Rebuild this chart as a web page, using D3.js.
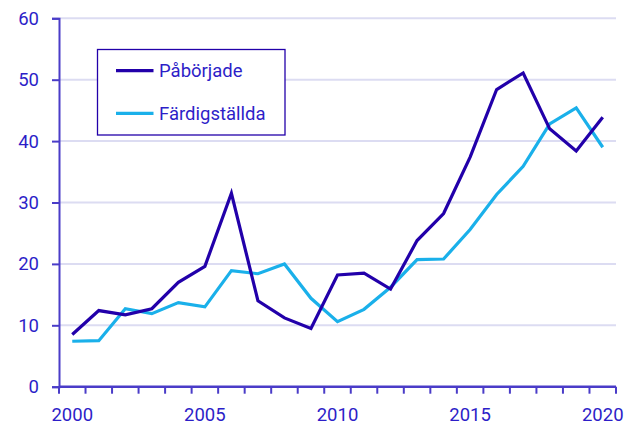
<!DOCTYPE html>
<html><head><meta charset="utf-8">
<script src="https://cdn.jsdelivr.net/npm/d3@7"></script>
<style>body{margin:0;background:#fff;} svg{display:block;}</style>
</head><body>
<script>
const years = d3.range(2000, 2021).map(String);
const paborjade = [8.5,12.4,11.7,12.7,17.0,19.6,31.5,14.0,11.2,9.5,18.2,18.5,15.9,23.8,28.2,37.4,48.4,51.1,42.0,38.4,43.9];
const fardigstallda = [7.4,7.5,12.7,11.9,13.7,13.0,18.9,18.4,20.0,14.4,10.6,12.6,16.2,20.7,20.8,25.6,31.3,35.9,42.8,45.4,39.0];
const yTicks = [0,10,20,30,40,50,60];
const xLabels = ["2000","2005","2010","2015","2020"];
const seriesNames = ["Påbörjade","Färdigställda"];

const W=633,H=425;
const m={left:59,right:17,top:18.3,bottom:38.3};
const textCol="#2d1ec8", axisCol="#4a3cc8", gridCol="#dcdcf2";
const colors=["#2200aa","#1ab0ea"];
const font="Roboto, 'Noto Sans', sans-serif";

const svg=d3.select("body").append("svg").attr("width",W).attr("height",H);
const x=d3.scaleBand().domain(years).range([m.left,W-m.right]);
const y=d3.scaleLinear().domain([0,60]).range([H-m.bottom,m.top]);

// grid
svg.append("g").selectAll("line").data(yTicks.filter(d=>d>0)).join("line")
  .attr("x1",m.left).attr("x2",W-m.right)
  .attr("y1",d=>y(d)).attr("y2",d=>y(d))
  .attr("stroke",gridCol).attr("stroke-width",2);

// y axis
const ya=svg.append("g").attr("transform",`translate(${m.left},0)`)
  .call(d3.axisLeft(y).tickValues(yTicks).tickSize(7).tickPadding(13));
ya.select(".domain").attr("stroke",axisCol).attr("stroke-width",2);
ya.selectAll(".tick line").attr("stroke",axisCol).attr("stroke-width",2);
ya.selectAll("text").attr("fill",textCol).style("font-family",font).style("font-size","18.5px");

// x axis: ticks at band boundaries
const xa=svg.append("g").attr("transform",`translate(0,${y(0)})`);
const bounds=years.map(d=>x(d)).concat([x(years[years.length-1])+x.bandwidth()]);
xa.append("line").attr("x1",m.left).attr("x2",W-m.right).attr("stroke",axisCol).attr("stroke-width",2.5);
xa.selectAll(".tk").data(bounds).join("line").attr("class","tk")
  .attr("x1",d=>d).attr("x2",d=>d).attr("y1",0).attr("y2",7)
  .attr("stroke",axisCol).attr("stroke-width",2);
xa.selectAll(".lbl").data(xLabels).join("text").attr("class","lbl")
  .attr("x",d=>x(d)+x.bandwidth()/2).attr("y",34)
  .attr("text-anchor","middle").attr("fill",textCol)
  .style("font-family",font).style("font-size","18.5px").text(d=>d);

// lines
const line=d3.line().x((d,i)=>x(years[i])+x.bandwidth()/2).y(d=>y(d));
[fardigstallda,paborjade].forEach((s,k)=>{
  svg.append("path").datum(s).attr("d",line).attr("fill","none")
    .attr("stroke",k===0?colors[1]:colors[0]).attr("stroke-width",3.2)
    .attr("stroke-linejoin","miter");
});

// legend
const lg=svg.append("g");
lg.append("rect").attr("x",97.5).attr("y",49.5).attr("width",187.5).attr("height",85.5)
  .attr("fill","#fff").attr("stroke","#2200aa").attr("stroke-width",1.3);
seriesNames.forEach((n,i)=>{
  const yy=70.7+i*42.6;
  lg.append("line").attr("x1",116).attr("x2",153.5).attr("y1",yy).attr("y2",yy)
    .attr("stroke",colors[i]).attr("stroke-width",3.2);
  lg.append("text").attr("x",159).attr("y",yy+6.3).attr("fill",textCol)
    .style("font-family",font).style("font-size","18.5px").text(n);
});
</script>
</body></html>
